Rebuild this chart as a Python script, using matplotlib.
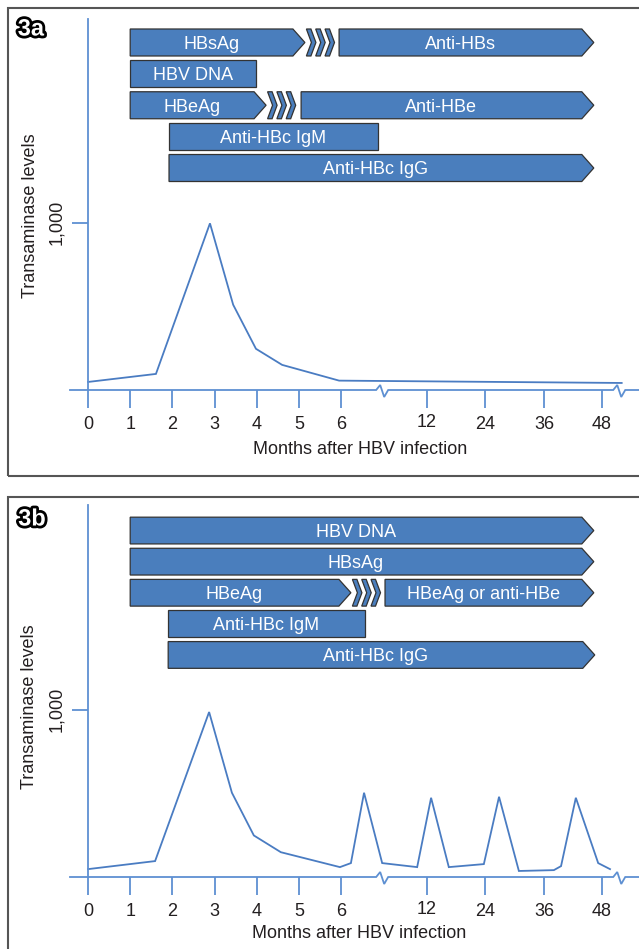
import numpy as np
import matplotlib
matplotlib.use("Agg")
import matplotlib.pyplot as plt
from matplotlib.patches import Polygon, Rectangle
from matplotlib import patheffects as pe
from matplotlib.transforms import ScaledTranslation

plt.rcParams['font.family'] = ['Liberation Sans', 'DejaVu Sans']

# ---------------------------------------------------------------- data
tick_months = [0, 1, 2, 3, 4, 5, 6, 12, 24, 36, 48]
tick_labels = ['0', '1', '2', '3', '4', '5', '6', '12', '24', '36', '48']
# broken time axis: months -> slot position on the axis
scale_months = [-1, 0, 1, 2, 3, 4, 5, 6, 12, 24, 36, 48, 60]
scale_slots = [-1, 0, 1, 2, 3, 4, 5, 6, 8.03, 9.41, 10.81, 12.18, 13.58]
axis_breaks_months = [8.8, 51.3]
y_ticks = [1000]
y_tick_labels = ['1,000']

# Panel 3a
a_line_months = [0, 1.61, 2.89, 3.44, 3.98, 4.6, 5.95, 52.0]
a_line_levels = [48, 96, 995, 509, 246, 150, 56, 42]
a_bar_labels = ['HBsAg', 'Anti-HBs', 'HBV DNA', 'HBeAg', 'Anti-HBe',
                'Anti-HBc IgM', 'Anti-HBc IgG']
a_bar_rows = [0, 0, 1, 2, 2, 3, 4]
a_bar_start = [1.0, 5.95, 1.0, 1.0, 5.05, 1.92, 1.92]
a_bar_end = [5.14, 46.3, 3.98, 4.22, 46.3, 8.57, 46.3]
a_bar_arrow = [True, True, False, True, True, False, True]
a_chevron_rows = [0, 2]
a_chevron_months = [5.14, 4.22]

# Panel 3b
b_line_months = [0, 1.59, 2.87, 3.41, 3.93, 4.57, 5.97, 6.68, 7.60, 8.87,
                 11.32, 12.87, 16.52, 23.74, 26.83, 30.86, 38.01, 39.50,
                 42.57, 47.21, 49.63]
b_line_levels = [47, 95, 985, 503, 248, 148, 59, 83, 503, 83,
                 59, 473, 59, 77, 479, 36, 41, 65,
                 473, 83, 47]
b_bar_labels = ['HBV DNA', 'HBsAg', 'HBeAg', 'HBeAg or anti-HBe',
                'Anti-HBc IgM', 'Anti-HBc IgG']
b_bar_rows = [0, 1, 2, 2, 3, 4]
b_bar_start = [1.0, 1.0, 1.0, 9.07, 1.9, 1.9]
b_bar_end = [46.3, 46.3, 6.68, 46.3, 7.66, 46.5]
b_bar_arrow = [True, True, True, True, False, True]
b_chevron_rows = [2]
b_chevron_months = [6.68]

# ---------------------------------------------------------------- style / layout
W, H, DPI = 639, 949, 100
BAR_FC = '#4a7ebd'
BAR_EC = '#333333'
LINE_C = '#4a7cc2'
AXIS_C = '#5e90d2'
TEXT_C = '#231f20'
BORDER_C = '#555555'
X0_PX = 88.0          # pixel of month 0
PX_PER_SLOT = 42.2
AX_L, AX_R = 70.0, 639.0


def to_slot(m):
    return np.interp(m, scale_months, scale_slots)


def to_month(s):
    return np.interp(s, scale_slots, scale_months)


def rect_px(l, t, r, b):
    return [l / W, 1 - b / H, (r - l) / W, (b - t) / H]


XLIM = (to_month((AX_L - X0_PX) / PX_PER_SLOT), to_month((AX_R - X0_PX) / PX_PER_SLOT))

fig = plt.figure(figsize=(W / DPI, H / DPI), dpi=DPI)


def px2pt(p):
    return p * 72.0 / DPI


def draw_panel(chart_px, bar_px, ylab_xy, xlab_xy, tag_xy, tag,
               line_m, line_v, labels, rows, starts, ends, arrows,
               chev_rows, chev_m):
    l, t, r, b = chart_px
    ax = fig.add_axes(rect_px(l, t, r, b))
    ax.set_xscale('function', functions=(to_slot, to_month))
    ax.set_xlim(*XLIM)
    val_per_px = 1000.0 / 167.5
    ytop = (b - t) * val_per_px
    ax.set_ylim(0, ytop)
    ax.patch.set_visible(False)
    for sp in ['top', 'right', 'bottom']:
        ax.spines[sp].set_visible(False)
    ax.spines['left'].set_position(('data', 0))
    ax.spines['left'].set_color(AXIS_C)
    ax.spines['left'].set_linewidth(1.3)

    ax.plot(line_m, line_v, color=LINE_C, lw=1.3, solid_joinstyle='miter')

    ax.set_xticks(tick_months)
    ax.set_xticklabels(tick_labels)
    ax.xaxis.set_minor_locator(matplotlib.ticker.NullLocator())
    ax.tick_params(axis='x', direction='out', length=px2pt(18), width=1.3,
                   color=AXIS_C, labelsize=13, labelcolor=TEXT_C, pad=px2pt(8))
    for lab in ax.get_xticklabels():
        if lab.get_text() == '12':
            lab.set_transform(lab.get_transform() +
                              ScaledTranslation(0, 2.0 / DPI, fig.dpi_scale_trans))
    ax.set_yticks(y_ticks)
    ax.set_yticklabels(y_tick_labels, rotation=90, va='center')
    ax.yaxis.set_minor_locator(matplotlib.ticker.NullLocator())
    ax.tick_params(axis='y', direction='out', length=px2pt(16), width=1.3,
                   color=AXIS_C, labelsize=13, labelcolor=TEXT_C, pad=px2pt(7))

    # baseline with break marks
    s_left = to_slot(XLIM[0])
    s_right = to_slot(XLIM[1])
    xs = [s_left]
    ys = [0]
    for bm in axis_breaks_months:
        bs = to_slot(bm)
        for dx, dy in [(-5, 0), (-1, 5), (3, -7), (7, 0)]:
            xs.append(bs + dx / PX_PER_SLOT)
            ys.append(dy * val_per_px)
    xs.append(s_right)
    ys.append(0)
    ax.plot(to_month(np.array(xs)), ys, color=AXIS_C, lw=1.3, clip_on=False,
            solid_joinstyle='miter')

    # bars
    bl, bt, br, bb = bar_px
    bx = fig.add_axes(rect_px(bl, bt, br, bb))
    bx.set_xscale('function', functions=(to_slot, to_month))
    bx.set_xlim(*XLIM)
    bx.set_ylim(4.5, -0.5)
    bx.axis('off')
    h = 0.86
    d = 12.0 / PX_PER_SLOT
    for lab, row, s, e, arr in zip(labels, rows, starts, ends, arrows):
        s0, s1 = to_slot(s), to_slot(e)
        top, bot = row - h / 2, row + h / 2
        if arr:
            pts = [(s0, top), (s1 - d, top), (s1, row), (s1 - d, bot), (s0, bot)]
            cx = (s0 + s1 - d) / 2
        else:
            pts = [(s0, top), (s1, top), (s1, bot), (s0, bot)]
            cx = (s0 + s1) / 2
        pts = [(to_month(x), y) for x, y in pts]
        bx.add_patch(Polygon(pts, closed=True, fc=BAR_FC, ec=BAR_EC, lw=0.9,
                             joinstyle='miter'))
        bx.annotate(lab, (to_month(cx), row), xytext=(0, -13 * 0.716 / 2),
                    textcoords='offset points', ha='center', va='baseline',
                    color='white', fontsize=13)
    ct, cd, pitch = 4.5 / PX_PER_SLOT, 5.0 / PX_PER_SLOT, 9.3 / PX_PER_SLOT
    for row, m in zip(chev_rows, chev_m):
        base = to_slot(m) + 1.5 / PX_PER_SLOT
        top, bot = row - h / 2, row + h / 2
        for i in range(3):
            x0 = base + i * pitch
            pts = [(x0, top), (x0 + ct, top), (x0 + ct + cd, row),
                   (x0 + ct, bot), (x0, bot), (x0 + cd, row)]
            pts = [(to_month(x), y) for x, y in pts]
            bx.add_patch(Polygon(pts, closed=True, fc=BAR_FC, ec=BAR_EC, lw=0.9,
                                 joinstyle='miter'))

    fig.text(ylab_xy[0] / W, 1 - ylab_xy[1] / H, 'Transaminase levels',
             rotation=90, ha='center', va='center', fontsize=13, color=TEXT_C)
    fig.text(xlab_xy[0] / W, 1 - xlab_xy[1] / H, 'Months after HBV infection',
             ha='center', va='center', fontsize=13, color=TEXT_C)
    fig.text(tag_xy[0] / W, 1 - tag_xy[1] / H, tag, ha='center', va='center',
             fontsize=17, fontweight='bold', color='white',
             path_effects=[pe.withStroke(linewidth=4, foreground='black')])


# panel borders
fig.add_artist(Rectangle((8 / W, 1 - 476 / H), 660 / W, (476 - 7.5) / H,
                         transform=fig.transFigure, fill=False, ec=BORDER_C, lw=1.5))
fig.add_artist(Rectangle((8 / W, 1 - 960 / H), 660 / W, (960 - 497) / H,
                         transform=fig.transFigure, fill=False, ec=BORDER_C, lw=1.5))

draw_panel((AX_L, 19, AX_R, 390), (AX_L, 26.8, AX_R, 183.7),
           (31, 216), (360, 450), (31, 29), '3a',
           a_line_months, a_line_levels, a_bar_labels, a_bar_rows,
           a_bar_start, a_bar_end, a_bar_arrow, a_chevron_rows, a_chevron_months)
draw_panel((AX_L, 505, AX_R, 877), (AX_L, 515, AX_R, 670.5),
           (30, 707), (359, 933), (32, 519), '3b',
           b_line_months, b_line_levels, b_bar_labels, b_bar_rows,
           b_bar_start, b_bar_end, b_bar_arrow, b_chevron_rows, b_chevron_months)

fig.savefig('out.png', dpi=DPI)
